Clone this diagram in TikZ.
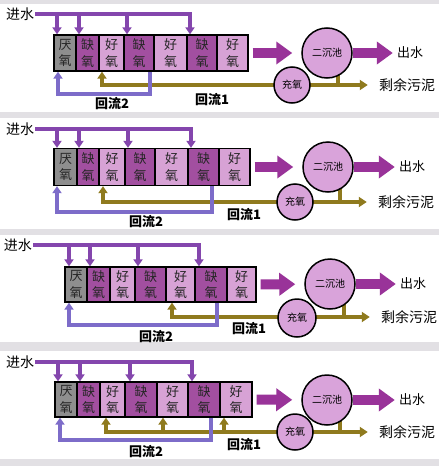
\documentclass[tikz,border=0pt]{standalone}
\usepackage{fontspec}
\setmainfont{Noto Sans CJK SC}
\usetikzlibrary{arrows.meta}
\definecolor{cbg}{HTML}{E2E0E4}
\definecolor{cana}{HTML}{8E8E8E}
\definecolor{canox}{HTML}{A24FA0}
\definecolor{caer}{HTML}{D7A2D5}
\definecolor{ccirc}{HTML}{D9A3DA}
\definecolor{cfeed}{HTML}{8446AD}
\definecolor{cret}{HTML}{7D6CC9}
\definecolor{coli}{HTML}{8F7A1E}
\definecolor{cbig}{HTML}{993399}
\pgfdeclarelayer{back}
\pgfdeclarelayer{mid}
\pgfsetlayers{back,mid,main}
\tikzset{
 cell/.style={draw=black, line width=1.3pt, inner sep=0pt, align=center, font=\fontsize{13}{16.5}\selectfont, text=black!85},
 feedline/.style={draw=cfeed, line width=3.5pt},
 feedarr/.style={feedline, -{Triangle[width=9pt,length=7pt]}},
 retarr/.style={draw=cret, line width=3.5pt, -{Triangle[width=9pt,length=7pt]}},
 oliveline/.style={draw=coli, line width=3.5pt},
 olivearr/.style={oliveline, -{Triangle[width=9pt,length=7pt]}},
 olivebi/.style={oliveline, {Triangle[width=9pt,length=7pt]}-{Triangle[width=10pt,length=8pt]}},
 bigarr/.style={draw=cbig, line width=10pt, -{Triangle[width=22pt,length=16pt]}},
 tank/.style={circle, draw=black, line width=1.5pt, fill=ccirc, inner sep=0pt, minimum size=50pt, font=\fontsize{10}{12}\selectfont},
 oxy/.style={circle, draw=black, line width=1.5pt, fill=ccirc, inner sep=0pt, minimum size=36pt, font=\fontsize{10}{12}\selectfont},
 lbl/.style={inner sep=1pt, font=\fontsize{14}{16}\selectfont},
 outlbl/.style={inner sep=1pt, font=\fontsize{13}{15}\selectfont},
 flowlbl/.style={inner sep=1pt, font=\fontsize{13}{15}\selectfont\bfseries},
}
\begin{document}
\begin{tikzpicture}[x=1pt,y=-1pt]
\useasboundingbox (0,0) rectangle (439,466);
\begin{pgfonlayer}{back}
\fill[cbg] (0,0) rectangle (439,466);
\fill[white] (0,4) rectangle (439,112);
\fill[white] (0,118) rectangle (439,229);
\fill[white] (0,235) rectangle (439,342);
\fill[white] (0,351) rectangle (439,459);
\end{pgfonlayer}

% ---------------- panel 1 ----------------
\foreach \l/\r/\c/\t [count=\i] in {54/76/cana/厌,76/99/canox/缺,99/124/caer/好,124/154/canox/缺,154/187/caer/好,187/217/canox/缺,217/248/caer/好}
  \node[cell, fill=\c, minimum width={(\r-\l)*1pt}, minimum height=36pt] (p1b\i) at ({(\l+\r)/2},53) {\t\\氧};
\node[lbl] (p1in) at (20,14) {进水};
\node[tank] (p1s) at (327,53) {二沉池};
\node[oxy] (p1o) at (292,85) {充氧};
\node[outlbl] (p1out) at (410,53) {出水};
\node[lbl] (p1sl) at (407,85) {剩余污泥};
\node[flowlbl] (p1l2) at (112,104) {回流2};
\node[flowlbl] (p1l1) at (212,100) {回流1};
\coordinate (p1d1) at (57,14); \coordinate (p1d2) at (79,14);
\coordinate (p1d3) at (127,14); \coordinate (p1d4) at (190,14);
\coordinate (p1ra) at (150,94); \coordinate (p1rb) at (58,94);
\coordinate (p1oa) at (102,85); \coordinate (p1ov) at (338,85);
\begin{pgfonlayer}{mid}
\draw[feedarr] (p1in.east) -- (p1d4) -- (p1d4 |- p1b6.north);
\draw[feedarr] (p1d1) -- (p1d1 |- p1b1.north);
\draw[feedarr] (p1d2) -- (p1d2 |- p1b2.north);
\draw[feedarr] (p1d3) -- (p1d3 |- p1b4.north);
\draw[olivebi, shorten >=10pt] (p1oa |- p1b3.south) -- (p1oa) -- (p1oa -| p1sl.west);
\draw[oliveline] (p1s.center -| p1ov) -- (p1ov);
\draw[retarr] (p1ra |- p1b4.south) -- (p1ra) -- (p1rb) -- (p1rb |- p1b1.south);
\draw[bigarr, shorten <=4pt, shorten >=9pt] (p1b7) -- (p1s);
\draw[bigarr, shorten >=3pt] (p1s) -- (p1out);
\end{pgfonlayer}

% ---------------- panel 2 ----------------
\foreach \l/\r/\c/\t [count=\i] in {54/77/cana/厌,77/99/canox/缺,99/125/caer/好,125/155/canox/缺,155/188/caer/好,188/219/canox/缺,219/250/caer/好}
  \node[cell, fill=\c, minimum width={(\r-\l)*1pt}, minimum height=37pt] (p2b\i) at ({(\l+\r)/2},167) {\t\\氧};
\node[lbl] (p2in) at (20,129) {进水};
\node[tank] (p2s) at (328,167) {二沉池};
\node[oxy] (p2o) at (295,202) {充氧};
\node[outlbl] (p2out) at (412,167) {出水};
\node[lbl] (p2sl) at (406,202) {剩余污泥};
\node[flowlbl] (p2l2) at (146,222) {回流2};
\node[flowlbl] (p2l1) at (244,215) {回流1};
\coordinate (p2d1) at (57,129); \coordinate (p2d2) at (79,129);
\coordinate (p2d3) at (128,129); \coordinate (p2d4) at (191,129);
\coordinate (p2ra) at (212,212); \coordinate (p2rb) at (57,212);
\coordinate (p2oa) at (103,202); \coordinate (p2ov) at (340,202);
\begin{pgfonlayer}{mid}
\draw[feedarr] (p2in.east) -- (p2d4) -- (p2d4 |- p2b6.north);
\draw[feedarr] (p2d1) -- (p2d1 |- p2b1.north);
\draw[feedarr] (p2d2) -- (p2d2 |- p2b2.north);
\draw[feedarr] (p2d3) -- (p2d3 |- p2b4.north);
\draw[olivebi, shorten >=10pt] (p2oa |- p2b3.south) -- (p2oa) -- (p2oa -| p2sl.west);
\draw[oliveline] (p2s.center -| p2ov) -- (p2ov);
\draw[retarr] (p2ra |- p2b6.south) -- (p2ra) -- (p2rb) -- (p2rb |- p2b1.south);
\draw[bigarr, shorten <=4pt, shorten >=9pt] (p2b7) -- (p2s);
\draw[bigarr, shorten >=3pt] (p2s) -- (p2out);
\end{pgfonlayer}

% ---------------- panel 3 ----------------
\foreach \l/\r/\c/\t [count=\i] in {65/87/cana/厌,87/110/canox/缺,110/135/caer/好,135/166/canox/缺,166/195/caer/好,195/227/canox/缺,227/256/caer/好}
  \node[cell, fill=\c, minimum width={(\r-\l)*1pt}, minimum height=35pt] (p3b\i) at ({(\l+\r)/2},284.5) {\t\\氧};
\node[lbl] (p3in) at (18,245) {进水};
\node[tank] (p3s) at (330,284) {二沉池};
\node[oxy, minimum size=38pt] (p3o) at (297,318) {充氧};
\node[outlbl] (p3out) at (413,284) {出水};
\node[lbl] (p3sl) at (409,317) {剩余污泥};
\node[flowlbl] (p3l2) at (156,337) {回流2};
\node[flowlbl] (p3l1) at (249,329) {回流1};
\coordinate (p3d1) at (69,245); \coordinate (p3d2) at (90,245);
\coordinate (p3d3) at (138,245); \coordinate (p3d4) at (199,245);
\coordinate (p3ra) at (217,325); \coordinate (p3rb) at (69,325);
\coordinate (p3oa) at (172,317); \coordinate (p3ov) at (344,317);
\begin{pgfonlayer}{mid}
\draw[feedarr] (p3in.east) -- (p3d4) -- (p3d4 |- p3b6.north);
\draw[feedarr] (p3d1) -- (p3d1 |- p3b1.north);
\draw[feedarr] (p3d2) -- (p3d2 |- p3b2.north);
\draw[feedarr] (p3d3) -- (p3d3 |- p3b4.north);
\draw[olivebi, shorten >=10pt] (p3oa |- p3b5.south) -- (p3oa) -- (p3oa -| p3sl.west);
\draw[oliveline] (p3s.center -| p3ov) -- (p3ov);
\draw[retarr] (p3ra |- p3b6.south) -- (p3ra) -- (p3rb) -- (p3rb |- p3b1.south);
\draw[bigarr, shorten <=4pt, shorten >=9pt] (p3b7) -- (p3s);
\draw[bigarr, shorten >=3pt] (p3s) -- (p3out);
\end{pgfonlayer}

% ---------------- panel 4 ----------------
\foreach \l/\r/\c/\t [count=\i] in {55/77/cana/厌,77/100/canox/缺,100/125/caer/好,125/157/canox/缺,157/188/caer/好,188/220/canox/缺,220/252/caer/好}
  \node[cell, fill=\c, minimum width={(\r-\l)*1pt}, minimum height=35pt] (p4b\i) at ({(\l+\r)/2},399.5) {\t\\氧};
\node[lbl] (p4in) at (20,362) {进水};
\node[tank] (p4s) at (327,400) {二沉池};
\node[oxy] (p4o) at (295,432) {充氧};
\node[outlbl] (p4out) at (412,400) {出水};
\node[lbl] (p4sl) at (407,432) {剩余污泥};
\node[flowlbl] (p4l2) at (146,452) {回流2};
\node[flowlbl] (p4l1) at (244,445) {回流1};
\coordinate (p4d1) at (58,362); \coordinate (p4d2) at (80,362);
\coordinate (p4d3) at (130,362); \coordinate (p4d4) at (192,362);
\coordinate (p4ra) at (211,440); \coordinate (p4rb) at (60,440);
\coordinate (p4oa) at (106,432); \coordinate (p4ob) at (163,432);
\coordinate (p4oc) at (224,432); \coordinate (p4ov) at (340,432);
\begin{pgfonlayer}{mid}
\draw[feedarr] (p4in.east) -- (p4d4) -- (p4d4 |- p4b6.north);
\draw[feedarr] (p4d1) -- (p4d1 |- p4b1.north);
\draw[feedarr] (p4d2) -- (p4d2 |- p4b2.north);
\draw[feedarr] (p4d3) -- (p4d3 |- p4b4.north);
\draw[olivebi, shorten >=10pt] (p4oa |- p4b3.south) -- (p4oa) -- (p4oa -| p4sl.west);
\draw[olivearr] (p4ob) -- (p4ob |- p4b5.south);
\draw[olivearr] (p4oc) -- (p4oc |- p4b7.south);
\draw[oliveline] (p4s.center -| p4ov) -- (p4ov);
\draw[retarr] (p4ra |- p4b6.south) -- (p4ra) -- (p4rb) -- (p4rb |- p4b1.south);
\draw[bigarr, shorten <=4pt, shorten >=9pt] (p4b7) -- (p4s);
\draw[bigarr, shorten >=3pt] (p4s) -- (p4out);
\end{pgfonlayer}
\end{tikzpicture}
\end{document}
